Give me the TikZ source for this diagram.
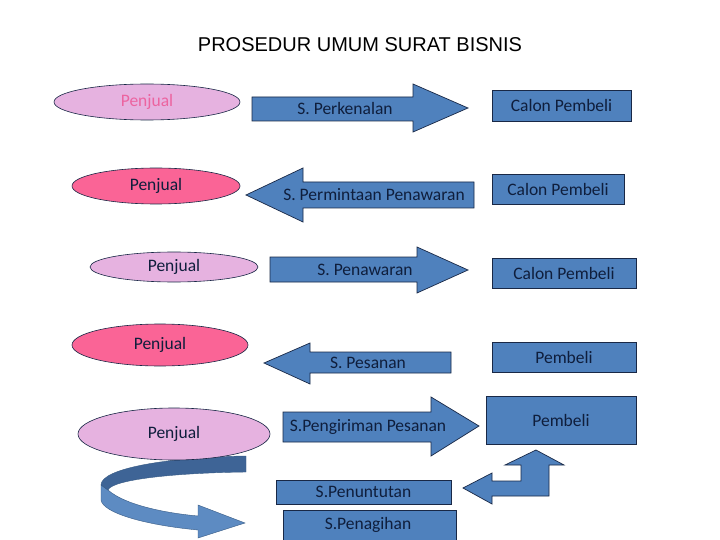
\documentclass[tikz,border=0pt]{standalone}
\usepackage{fontspec}
\setmainfont{Carlito}
\newfontfamily\titlefont{Liberation Sans}
\usetikzlibrary{shapes.geometric}
\definecolor{boxblue}{RGB}{79,129,189}
\definecolor{darkblue}{RGB}{62,100,150}
\definecolor{lightpink}{RGB}{230,178,224}
\definecolor{hotpink}{RGB}{250,100,150}
\definecolor{pinktext}{RGB}{236,100,160}
\definecolor{navytext}{RGB}{15,30,60}
\definecolor{edge}{RGB}{25,40,70}
\tikzset{
  oval/.style={ellipse, draw=edge, line width=0.6pt, inner sep=0pt, font=\fontsize{17.5}{19}\selectfont, text=navytext},
  lpink/.style={oval, fill=lightpink},
  hpink/.style={oval, fill=hotpink},
  bluebox/.style={draw=edge, line width=0.7pt, fill=boxblue, inner sep=0pt, font=\fontsize{17.5}{19}\selectfont, text=navytext},
  blueshape/.style={draw=edge, line width=0.7pt, fill=boxblue},
  lbl/.style={inner sep=0pt, font=\fontsize{17.5}{19}\selectfont, text=navytext},
}
\begin{document}
\begin{tikzpicture}[x=1pt,y=-1pt]
\useasboundingbox (0,0) rectangle (720,540);
\fill[white] (0,0) rectangle (720,540);

\node[inner sep=0pt, font=\titlefont\fontsize{20}{22}\selectfont] (title) at (360,45) {PROSEDUR UMUM SURAT BISNIS};

% Penjual ellipses
\node[lpink, minimum width=186, minimum height=36, text=pinktext] (p1) at (147,102) {Penjual};
\node[hpink, minimum width=168, minimum height=36] (p2) at (156,186) {Penjual};
\node[lpink, minimum width=168, minimum height=30] (p3) at (174,267) {Penjual};
\node[hpink, minimum width=176, minimum height=42] (p4) at (160,345) {Penjual};

% arrows
\draw[blueshape] (252,97) -- (413,97) -- (413,84) -- (468,108) -- (413,132) -- (413,121) -- (252,121) -- cycle;
\node[lbl] (a1) at (345,108) {S. Perkenalan};

\draw[blueshape] (474,182) -- (303,182) -- (303,168) -- (246,195) -- (303,222) -- (303,208) -- (474,208) -- cycle;
\node[lbl] (a2) at (374,195) {S. Permintaan Penawaran};

\draw[blueshape] (270,257) -- (417,257) -- (417,247) -- (468,270) -- (417,293) -- (417,282) -- (270,282) -- cycle;
\node[lbl] (a3) at (365,270) {S. Penawaran};

\draw[blueshape] (451,352) -- (310,352) -- (310,343) -- (264,363) -- (310,384) -- (310,373) -- (451,373) -- cycle;
\node[lbl] (a4) at (368,363) {S. Pesanan};

\draw[blueshape] (283,412) -- (431,412) -- (431,397) -- (479,426) -- (431,456) -- (431,442) -- (283,442) -- cycle;
\node[lbl] (a5) at (368,427) {S.Pengiriman Pesanan};

% circular arrow
\fill[boxblue!92!white, draw=boxblue!70!black, line width=0.4pt]
  (108,490) .. controls (125,505) and (165,513) .. (198,516) -- (198,505) -- (245,523) -- (198,538) -- (198,530)
  .. controls (145,525) and (103,513) .. (101,500) -- (101,485) -- cycle;
\fill[darkblue, draw=boxblue!70!black, line width=0.4pt]
  (246,456) -- (246,472) .. controls (170,473) and (112,480) .. (108,490) -- (101,485)
  .. controls (101,468) and (170,457) .. (246,456) -- cycle;

\node[lpink, minimum width=192, minimum height=52] (p5) at (174,434) {Penjual};

% rectangles
\node[bluebox, minimum width=175, minimum height=24] (r1) at (363.5,492) {S.Penuntutan};
\node[bluebox, minimum width=173, minimum height=34, anchor=north] (r2) at (369.5,510) {};
\node[lbl] (r2t) at (368,525) {S.Penagihan};

% right boxes
\node[bluebox, minimum width=139, minimum height=31] (c1) at (561.5,105.5) {Calon Pembeli};
\node[bluebox, minimum width=132, minimum height=30] (c2) at (558,189) {Calon Pembeli};
\node[bluebox, minimum width=144, minimum height=30] (c3) at (564,273) {Calon Pembeli};
\node[bluebox, minimum width=144, minimum height=30] (b1) at (564,357) {Pembeli};
\node[bluebox, minimum width=150, minimum height=48, text depth=0pt] (b2) at (561,420) {};
\node[lbl] (b2t) at (561,420) {Pembeli};

% bent arrow
\draw[blueshape] (536,450) -- (564,465) -- (549,465) -- (549,496) -- (492,496) -- (492,504) -- (463,488)
  -- (492,473) -- (492,481) -- (521,481) -- (521,465) -- (505,465) -- cycle;
\end{tikzpicture}
\end{document}
